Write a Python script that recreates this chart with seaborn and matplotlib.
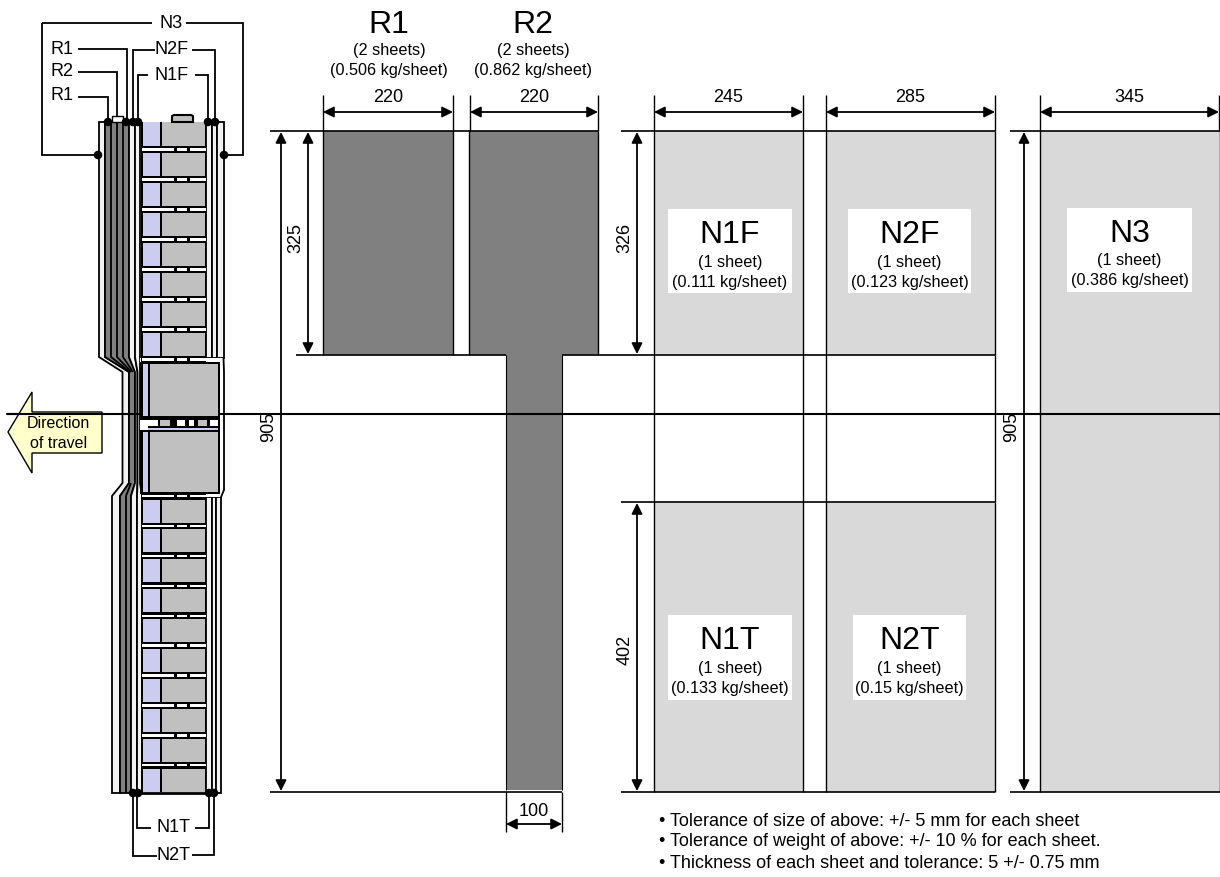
import matplotlib
matplotlib.use('Agg')
import matplotlib.pyplot as plt
from matplotlib.patches import Rectangle, Polygon
import pandas as pd
import seaborn as sns

sns.set_theme(style='white')
plt.rcParams['font.family'] = ['Liberation Sans', 'DejaVu Sans']
plt.rcParams['text.color'] = 'black'

# sheets, all in picture pixels because the mm dimensions are not to scale
sheet_names = ['R1', 'R2', 'N1F', 'N2F', 'N3', 'N1T', 'N2T']
sheet_left = [323, 469, 654, 826, 1040, 654, 826]
sheet_right = [453, 598, 803, 995, 1220, 803, 995]
sheet_top = [131, 131, 131, 131, 131, 502, 502]
sheet_bottom = [355, 355, 355, 355, 792, 792, 792]
sheet_count = ['(2 sheets)', '(2 sheets)', '(1 sheet)', '(1 sheet)', '(1 sheet)', '(1 sheet)', '(1 sheet)']
sheet_weight = ['(0.506 kg/sheet)', '(0.862 kg/sheet)', '(0.111 kg/sheet)', '(0.123 kg/sheet)',
                '(0.386 kg/sheet)', '(0.133 kg/sheet)', '(0.15 kg/sheet)']

notes = ['• Tolerance of size of above: +/- 5 mm for each sheet',
         '• Tolerance of weight of above: +/- 10 % for each sheet.',
         '• Thickness of each sheet and tolerance: 5 +/- 0.75 mm']

dot_x = [98, 108, 126, 133, 138, 208, 215, 224, 133, 138, 209, 214]
dot_y = [155, 122, 122, 122, 122, 122, 122, 155, 793, 793, 793, 793]

DARK = '#808080'
LIGHT = '#d9d9d9'
BLUE = '#ccccee'
MOD = '#c0c0c0'
STRIP = '#f2f2f2'

fig = plt.figure(figsize=(12.2, 8.77), dpi=100)
ax = fig.add_axes([0, 0, 1, 1])
ax.set_xlim(0, 1220)
ax.set_ylim(877, 0)
ax.axis('off')


def line(xs, ys, lw=1.0, z=4):
    ax.plot(xs, ys, color='black', lw=lw, solid_capstyle='butt', solid_joinstyle='miter', zorder=z)


def rect(x0, y0, x1, y1, color, z=3):
    ax.add_patch(Rectangle((x0, y0), x1 - x0, y1 - y0, fc=color, ec='none', zorder=z))


def arrow(x0, y0, x1, y1):
    ax.annotate('', xy=(x1, y1), xytext=(x0, y0), zorder=5,
                arrowprops=dict(arrowstyle='<|-|>', color='black', lw=1.3, mutation_scale=16,
                                shrinkA=0, shrinkB=0))


# ---- sheets on the right
for i, name in enumerate(sheet_names):
    color = DARK if name.startswith('R') else LIGHT
    rect(sheet_left[i], sheet_top[i], sheet_right[i], sheet_bottom[i], color, 1)
    line([sheet_left[i], sheet_left[i]], [sheet_top[i], sheet_bottom[i]], 1.0)
    line([sheet_right[i], sheet_right[i]], [sheet_top[i], sheet_bottom[i]], 1.0)
rect(506, 355, 562, 790, DARK, 1)
line([506, 506], [355, 790], 0.8)
line([562, 562], [355, 790], 0.8)

# the upper and lower N sheets are joined by plain outlines
for x in [654, 803, 826, 995]:
    line([x, x], [355, 502], 1.0)

# white boxes behind the N labels
boxes = {'N1F': (668, 209, 124, 84), 'N2F': (848, 209, 123, 84), 'N3': (1067, 208, 125, 84),
         'N1T': (668, 615, 124, 85), 'N2T': (853, 615, 113, 85)}
for i, name in enumerate(sheet_names):
    if name in boxes:
        bx, by, bw, bh = boxes[name]
        rect(bx, by, bx + bw, by + bh, 'white', 2)
        cx = bx + bw / 2
        ax.text(cx, by + 26, name, fontsize=23, ha='center', va='center', zorder=6)
        ax.text(cx, by + 53, sheet_count[i], fontsize=11.7, ha='center', va='center', zorder=6)
        ax.text(cx, by + 73, sheet_weight[i], fontsize=11.7, ha='center', va='center', zorder=6)

for cx, i in [(389, 0), (533, 1)]:
    ax.text(cx, 25, sheet_names[i], fontsize=23, ha='center', va='center')
    ax.text(cx, 51, sheet_count[i], fontsize=11.7, ha='center', va='center')
    ax.text(cx, 70, sheet_weight[i], fontsize=11.7, ha='center', va='center')

# long construction lines
line([7, 1220], [414, 414], 1.5)
line([270, 598], [131, 131], 1.2)
line([621, 995], [131, 131], 1.2)
line([1010, 1220], [131, 131], 1.2)
line([296, 506], [355, 355], 1.2)
line([562, 995], [355, 355], 1.2)
line([270, 562], [792, 792], 1.2)
line([621, 995], [792, 792], 1.2)
line([1010, 1220], [792, 792], 1.2)
line([621, 995], [502, 502], 1.2)

# extension lines for the widths
for x in [323, 453, 470, 598, 654, 803, 826, 995, 1040, 1219]:
    line([x, x], [95, 131])
line([506, 506], [792, 832])
line([562, 562], [792, 832])

for x0, x1, label in [(323, 453, '220'), (470, 598, '220'), (654, 803, '245'), (826, 995, '285'), (1040, 1219, '345')]:
    arrow(x0, 112, x1, 112)
    ax.text((x0 + x1) / 2, 98, label, fontsize=13, ha='center', va='center')
arrow(506, 824, 562, 824)
ax.text(534, 811, '100', fontsize=13, ha='center', va='center')

for x, y0, y1, label, ly in [(308, 132, 354, '325', 238), (281, 132, 791, '905', 427),
                             (637, 132, 354, '326', 238), (637, 503, 791, '402', 650),
                             (1024, 132, 791, '905', 427)]:
    arrow(x, y0, x, y1)
    ax.text(x - 12, ly, label, fontsize=13, rotation=90, ha='center', va='center')

for k, note in enumerate(notes):
    ax.text(659, 821 + k * 21, note, fontsize=12.95, ha='left', va='center')


# ---- section drawing on the left
def strip(x_top, x_mid, x_bot, color):
    pts = [(x_top[0], 122), (x_top[0], 357), (x_mid[0], 372), (x_mid[0], 483), (x_bot[0], 496), (x_bot[0], 793),
           (x_bot[1], 793), (x_bot[1], 496), (x_mid[1], 483), (x_mid[1], 372), (x_top[1], 357), (x_top[1], 122)]
    ax.add_patch(Polygon(pts, closed=True, fc=color, ec='black', lw=1.3, joinstyle='miter', zorder=2))


def separator(y):
    rect(141, y - 3.5, 206, y + 3.5, 'black', 3)
    rect(142, y - 1.2, 206, y + 1.2, 'white', 5)
    rect(174, y - 1.5, 177, y + 1.5, 'black', 6)
    rect(187, y - 1.5, 190, y + 1.5, 'black', 6)


def module(y0, y1):
    rect(141, y0, 206, y1, 'black', 2.5)
    rect(143, y0, 160, y1, BLUE)
    rect(162, y0, 205, y1, MOD)


# left stack, outside to inside: N3, the R sheets as one dark band, N2F, N1F
strip((99, 105), (122.5, 129), (112, 120), STRIP)
strip((105, 129), (129, 135), (120, 131), DARK)
strip((129, 135), (135, 137.5), (131, 137), STRIP)
strip((135, 140), (137.5, 140), (137, 142), STRIP)

# inner edges of the R sheets, they run together in the middle
for x_top, x_mid in [(111, 130), (117, 131.5), (123, 133)]:
    line([x_top, x_top, x_mid], [122, 357, 372], 1.3, 2.1)
line([126, 126, 131], [793, 496, 483], 1.3, 2.1)

# right stack
for x0, x1 in [(206, 212), (212, 217), (217, 223.5)]:
    ax.add_patch(Rectangle((x0, 122), x1 - x0, 236, fc=STRIP, ec='black', lw=1.3, zorder=2))
for x0, x1 in [(206, 212), (212, 216), (216, 221)]:
    ax.add_patch(Rectangle((x0, 497), x1 - x0, 296, fc=STRIP, ec='black', lw=1.3, zorder=2))
rect(140, 358, 224, 497, 'white', 2.2)
ax.plot([223.5, 224, 224, 221], [358, 372, 490, 497], color='black', lw=1.3, zorder=3)

# modules and the separators between them
for k in range(8):
    top = 122 if k == 0 else 123 + k * 30
    module(top, 146 + k * 30)
    separator(149.5 + k * 30)
separator(496)
for k in range(10):
    bottom = 792 if k == 9 else 523 + k * 29.9
    module(499.5 + k * 29.9, bottom)
    if k < 9:
        separator(526 + k * 29.9)
line([141, 206], [792.5, 792.5], 2)

# small top lugs
ax.add_patch(Rectangle((112, 116), 11, 6, fc='white', ec='black', lw=1.0, zorder=3))
ax.add_patch(Polygon([(172, 122), (172, 116), (174, 115), (191, 115), (193, 116), (193, 122)],
                     closed=True, fc=MOD, ec='black', lw=1.5, zorder=3))

# big centre blocks
for y0, y1 in [(362, 418), (430, 494)]:
    rect(140, y0, 220, y1, 'black', 3)
    rect(143, y0 + 2, 148, y1 - 2, BLUE, 4)
    rect(150, y0 + 2, 218, y1 - 2, MOD, 4)
rect(140, 418, 220, 430, 'black', 3)
rect(140, 420, 148, 430, 'white', 4)
rect(148, 428, 218, 430, BLUE, 4)
for x0, x1, c in [(148, 158, 'white'), (160, 170, MOD), (177, 185, 'white'), (189, 194, 'white'),
                  (198, 207, MOD), (210, 218, 'white')]:
    rect(x0, 420, x1, 425.5, c, 4)

# leader lines
line([42, 152], [23, 23], 1.3)
line([42, 42, 96], [23, 155, 155], 1.3)
line([186, 243, 243, 226], [23, 23, 155, 155], 1.3)
line([78, 127, 127], [49, 49, 122], 1.3)
line([78, 117, 117], [72, 72, 116], 1.3)
line([78, 108, 108], [97, 97, 122], 1.3)
line([133, 133, 155], [122, 50, 50], 1.3)
line([192, 215, 215], [50, 50, 122], 1.3)
line([138, 138, 148], [122, 75, 75], 1.3)
line([195, 208, 208], [75, 75, 122], 1.3)
line([133, 133, 157], [793, 856, 856], 1.3)
line([137, 137, 151], [793, 828, 828], 1.3)
line([195, 209, 209], [828, 828, 793], 1.3)
line([192, 214, 214], [855, 855, 793], 1.3)

for x, y, t in [(171, 23, 'N3'), (62, 49, 'R1'), (62, 72, 'R2'), (62, 96, 'R1'),
                (172, 50, 'N2F'), (172, 75, 'N1F'), (174, 827, 'N1T'), (174, 855, 'N2T')]:
    ax.text(x, y, t, fontsize=13, ha='center', va='center')

dots = pd.DataFrame({'x': dot_x, 'y': dot_y})
sns.scatterplot(data=dots, x='x', y='y', color='black', s=38, edgecolor='none', zorder=6, ax=ax, legend=False)
ax.set_xlim(0, 1220)
ax.set_ylim(877, 0)
ax.axis('off')

# direction arrow
ax.add_patch(Polygon([(8, 432), (32, 392), (32, 412), (102, 412), (102, 453), (32, 453), (32, 473)],
                     closed=True, fc='#ffffcc', ec='black', lw=1.0, zorder=6))
ax.plot([7, 102], [414, 414], color='black', lw=1.5, zorder=7)
ax.text(58, 424, 'Direction', fontsize=11.5, ha='center', va='center', zorder=8)
ax.text(59, 443, 'of travel', fontsize=11.5, ha='center', va='center', zorder=8)

fig.savefig('out.png', dpi=100)
